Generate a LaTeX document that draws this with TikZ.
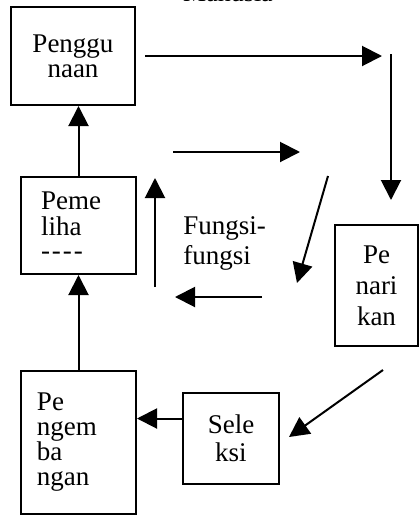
\documentclass[tikz,border=0pt]{standalone}
\usepackage{fontspec}
\setmainfont{Liberation Serif}
\usetikzlibrary{arrows.meta}

\begin{document}
\begin{tikzpicture}[x=0.5pt, y=-0.5pt,
        kotak/.style={draw, line width=1pt, inner sep=0pt},
        panah/.style={line width=1pt, -{Triangle[length=10pt, width=10pt]}}]
    \useasboundingbox (0,0) rectangle (419,515);
    \node [anchor=base, font=\fontsize{13}{13}\selectfont] (judul) at (228,1.5) {Manusia};
    \node [kotak, minimum width=62pt, minimum height=49pt, align=center,
           font=\fontsize{13.5}{12.5}\selectfont] (penggunaan) at (73,56) {Penggu\\naan};
    \node [kotak, minimum height=48.5pt, inner xsep=10pt, text width=37.5pt, align=left,
           font=\fontsize{13.5}{13}\selectfont] (pemeliha) at (78.5,225.5) {Peme\\liha\\[-1pt]-\kern1pt-\kern1pt-\kern1pt-};
    \node [kotak, minimum height=71.5pt, inner xsep=8pt, text width=41.5pt, align=left,
           font=\fontsize{13.5}{12.5}\selectfont] (pengembangan) at (78.5,442.5) {Pe\\ngem\\ba\\ngan};
    \node [kotak, minimum width=48pt, minimum height=45.5pt, align=center,
           font=\fontsize{13.5}{14}\selectfont] (seleksi) at (231,438.5) {Sele\\ksi};
    \node [kotak, minimum width=41.5pt, minimum height=60.5pt, align=center,
           font=\fontsize{13.5}{15.5}\selectfont] (penarikan) at (376.5,285.5) {Pe\\nari\\kan};
    \node [anchor=west, align=left, inner sep=0pt,
           font=\fontsize{13.5}{15}\selectfont] (fungsi) at (183,243) {Fungsi-\\fungsi};

    \coordinate (atas) at (382,56);
    \coordinate (sudut) at (391,54);
    \coordinate (turun) at (391,200);
    \coordinate (k1) at (173,152);
    \coordinate (k2) at (300,152);
    \coordinate (m1) at (328,176);
    \coordinate (m2) at (297,283);
    \coordinate (b1) at (262,297);
    \coordinate (b2) at (175,297);
    \coordinate (n1) at (155,287);
    \coordinate (n2) at (155,178);
    \coordinate (s1) at (383,370);
    \coordinate (s2) at (289,437);

    \draw [panah] ([xshift=4.5pt]penggunaan.east) -- (atas);
    \draw [panah] (sudut) -- (turun);
    \draw [panah] (k1) -- (k2);
    \draw [panah] (m1) -- (m2);
    \draw [panah] (b1) -- (b2);
    \draw [panah] (n1) -- (n2);
    \draw [panah] (s1) -- (s2);
    \draw [panah] (pemeliha.north) -- (pemeliha.north |- penggunaan.south);
    \draw [panah] (pengembangan.north) -- (pemeliha.south);
    \draw [panah] ([yshift=10pt]seleksi.west) -- ([yshift=10pt]seleksi.west -| pengembangan.east);
\end{tikzpicture}
\end{document}
